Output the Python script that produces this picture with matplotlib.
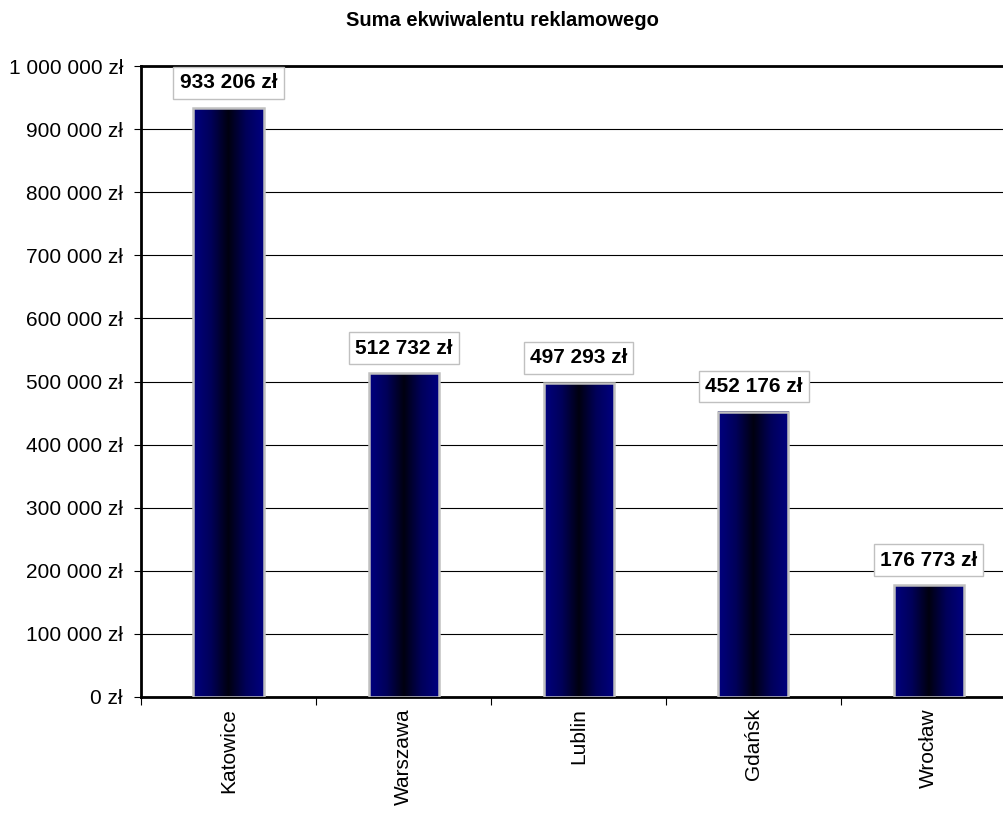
import matplotlib
matplotlib.use("Agg")
import matplotlib.pyplot as plt
import numpy as np
from matplotlib.colors import LinearSegmentedColormap

cities = ["Katowice", "Warszawa", "Lublin", "Gdańsk", "Wrocław"]
values = [933206, 512732, 497293, 452176, 176773]
yticks = [0, 100000, 200000, 300000, 400000, 500000, 600000, 700000, 800000, 900000, 1000000]
title = "Suma ekwiwalentu reklamowego"

def fmt(v):
    return f"{v:,}".replace(",", " ") + " zł"

plt.rcParams['font.family'] = ['Liberation Sans', 'DejaVu Sans']

fig = plt.figure(figsize=(10.04, 8.14), dpi=100)
ax = fig.add_axes([141/1004, 1 - 697/814, 875/1004, 631/814])

cmap = LinearSegmentedColormap.from_list("g", ["#000080", "#00005a", "#000010", "#00005a", "#000080"])
grad = np.linspace(0, 1, 256).reshape(1, -1)
w = 0.4
for i, v in enumerate(values):
    ax.imshow(grad, cmap=cmap, aspect='auto', extent=[i - w/2, i + w/2, 0, v], zorder=3, interpolation='bilinear')
    ax.bar(i, v, width=w, facecolor='none', edgecolor='#c0c0c0', linewidth=1.8, zorder=4)
    ax.text(i, v + 40000, fmt(v), ha='center', va='center', fontsize=15, fontweight='bold', zorder=5,
            bbox=dict(boxstyle='square,pad=0.3', facecolor='white', edgecolor='#c0c0c0', linewidth=1))

ax.set_xlim(-0.5, len(cities) - 0.5)
ax.set_ylim(0, 1000000)
ax.set_yticks(yticks)
ax.set_yticklabels([fmt(t) for t in yticks], fontsize=15)
ax.yaxis.grid(True, color='black', linewidth=0.8, zorder=0)
ax.set_axisbelow(True)

ax.set_xticks(range(len(cities)))
ax.set_xticklabels(cities, rotation=90, fontsize=15, va='top')
ax.set_xticks(np.arange(-0.5, len(cities), 1), minor=True)
ax.tick_params(axis='x', which='major', length=0, pad=8)
ax.tick_params(axis='x', which='minor', length=6, width=0.8, direction='out')
ax.tick_params(axis='y', length=5, width=0.8, direction='out', pad=8)

for s in ['left', 'top', 'bottom']:
    ax.spines[s].set_linewidth(2)
ax.spines['right'].set_visible(False)

fig.text(502/1004, 1 - 20/814, title, ha='center', va='center', fontsize=14.5, fontweight='bold')

fig.savefig("out.png", dpi=100)
